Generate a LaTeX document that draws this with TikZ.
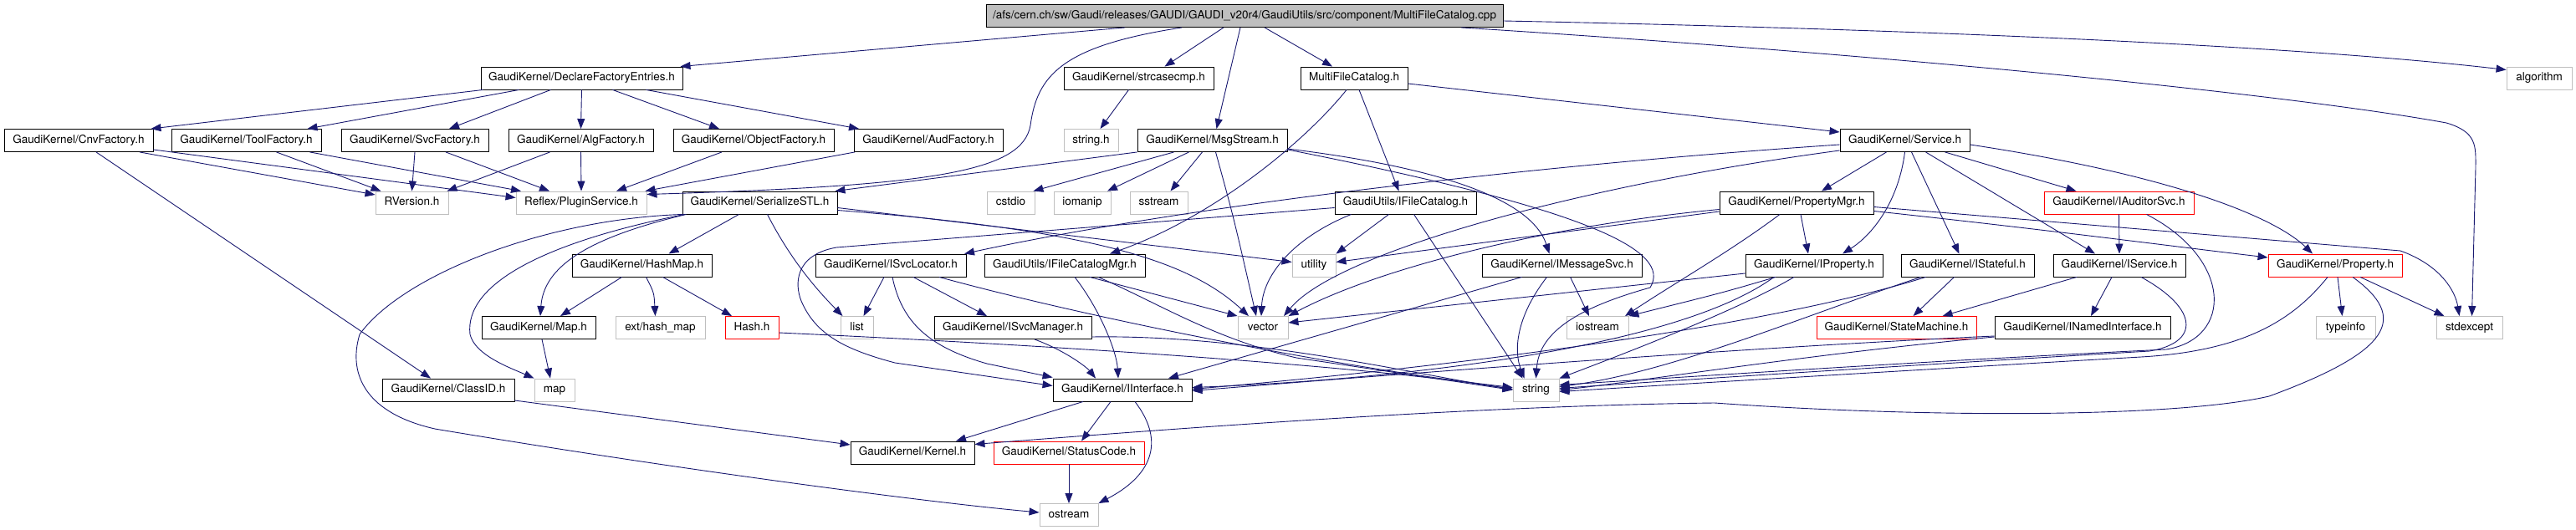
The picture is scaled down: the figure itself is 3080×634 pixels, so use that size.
\documentclass[tikz,border=0pt]{standalone}
\usepackage{fontspec}
\setmainfont[Ligatures=NoCommon]{TeX Gyre Heros}
\usetikzlibrary{arrows.meta}
\definecolor{edgec}{HTML}{191970}
\definecolor{gbord}{HTML}{BFBFBF}
\tikzset{
  box/.style={draw, line width=0.9pt, minimum height=27pt, inner sep=0pt,
    text height=9.8pt, text depth=2.9pt, font=\fontsize{13.5pt}{15pt}\selectfont, anchor=center},
  doc/.style={box, draw=black},
  ext/.style={box, draw=gbord},
  trunc/.style={box, draw=red},
  rootbox/.style={box, draw=black, fill=gbord},
  edge/.style={draw=edgec, line width=0.9pt, -{Triangle[length=12pt,width=9pt]}},
}
\begin{document}
\begin{tikzpicture}[x=1pt,y=-1pt]
\useasboundingbox (0,0) rectangle (3080,634);
% row 0
\node[rootbox, minimum width=618pt] (root) at (1488,19) {/afs/cern.ch/sw/Gaudi/releases/GAUDI/GAUDI\_v20r4/GaudiUtils/src/component/MultiFileCatalog.cpp};
% row 1
\node[doc, minimum width=241pt] (dfe) at (695.5,93.5) {GaudiKernel/DeclareFactoryEntries.h};
\node[doc, minimum width=179pt] (strc) at (1361.5,93.5) {GaudiKernel/strcasecmp.h};
\node[doc, minimum width=128pt] (mfch) at (1619,93.5) {MultiFileCatalog.h};
\node[ext, minimum width=78pt] (algo) at (3036,93.5) {algorithm};
% row 2
\node[doc, minimum width=178pt] (cnv) at (94,168) {GaudiKernel/CnvFactory.h};
\node[doc, minimum width=179pt] (tool) at (294.5,168) {GaudiKernel/ToolFactory.h};
\node[doc, minimum width=176pt] (svcf) at (496,168) {GaudiKernel/SvcFactory.h};
\node[doc, minimum width=173pt] (algf) at (694.5,168) {GaudiKernel/AlgFactory.h};
\node[doc, minimum width=192pt] (objf) at (901,168) {GaudiKernel/ObjectFactory.h};
\node[doc, minimum width=178pt] (audf) at (1110,168) {GaudiKernel/AudFactory.h};
\node[ext, minimum width=65pt] (stringh) at (1304.5,168) {string.h};
\node[doc, minimum width=179pt] (msg) at (1449.5,168) {GaudiKernel/MsgStream.h};
\node[doc, minimum width=155pt] (svc) at (2277.5,168) {GaudiKernel/Service.h};
% row 3
\node[ext, minimum width=87pt] (rver) at (492.5,242.5) {RVersion.h};
\node[ext, minimum width=156pt] (plug) at (695,242.5) {Reflex/PluginService.h};
\node[doc, minimum width=185pt] (ser) at (908.5,242.5) {GaudiKernel/SerializeSTL.h};
\node[ext, minimum width=57pt] (cstdio) at (1208.5,242.5) {cstdio};
\node[ext, minimum width=68pt] (iomanip) at (1294,242.5) {iomanip};
\node[ext, minimum width=69pt] (sstream) at (1385.5,242.5) {sstream};
\node[doc, minimum width=169pt] (ifc) at (1680.5,242.5) {GaudiUtils/IFileCatalog.h};
\node[doc, minimum width=184pt] (pmgr) at (2148,242.5) {GaudiKernel/PropertyMgr.h};
\node[trunc, minimum width=179pt] (iaud) at (2533.5,242.5) {GaudiKernel/IAuditorSvc.h};
% row 4
\node[doc, minimum width=167pt] (hashmap) at (767.5,317.5) {GaudiKernel/HashMap.h};
\node[doc, minimum width=180pt] (isl) at (1065,317.5) {GaudiKernel/ISvcLocator.h};
\node[doc, minimum width=192pt] (ifcm) at (1273,317.5) {GaudiUtils/IFileCatalogMgr.h};
\node[ext, minimum width=52pt] (utility) at (1571,317.5) {utility};
\node[doc, minimum width=191pt] (imsg) at (1867.5,317.5) {GaudiKernel/IMessageSvc.h};
\node[doc, minimum width=164pt] (iprop) at (2169,317.5) {GaudiKernel/IProperty.h};
\node[doc, minimum width=159pt] (istate) at (2352.5,317.5) {GaudiKernel/IStateful.h};
\node[doc, minimum width=158pt] (isvc) at (2534,317.5) {GaudiKernel/IService.h};
\node[trunc, minimum width=160pt] (prop) at (2792,317.5) {GaudiKernel/Property.h};
% row 5
\node[doc, minimum width=136pt] (maph) at (644,392) {GaudiKernel/Map.h};
\node[ext, minimum width=107pt] (hashext) at (789.5,392) {ext/hash\_map};
\node[trunc, minimum width=64pt] (hashh) at (899,392) {Hash.h};
\node[ext, minimum width=39pt] (list) at (1024.5,392) {list};
\node[doc, minimum width=188pt] (ismgr) at (1211,392) {GaudiKernel/ISvcManager.h};
\node[ext, minimum width=60pt] (vector) at (1510,392) {vector};
\node[ext, minimum width=74pt] (iostream) at (1910,392) {iostream};
\node[trunc, minimum width=191pt] (sm) at (2267.5,392) {GaudiKernel/StateMachine.h};
\node[doc, minimum width=210pt] (inamed) at (2490,392) {GaudiKernel/INamedInterface.h};
\node[ext, minimum width=71pt] (typeinfo) at (2804.5,392) {typeinfo};
\node[ext, minimum width=79pt] (stdexc) at (2952.5,392) {stdexcept};
% row 6
\node[doc, minimum width=158pt] (classid) at (536,466.5) {GaudiKernel/ClassID.h};
\node[ext, minimum width=48pt] (map) at (663,466.5) {map};
\node[doc, minimum width=166pt] (iint) at (1342,466.5) {GaudiKernel/IInterface.h};
\node[ext, minimum width=55pt] (string) at (1836.5,466.5) {string};
% row 7
\node[doc, minimum width=148pt] (kernel) at (1091,541.5) {GaudiKernel/Kernel.h};
\node[trunc, minimum width=180pt] (sc) at (1278,541.5) {GaudiKernel/StatusCode.h};
% row 8
\node[ext, minimum width=70pt] (ostream) at (1278,616) {ostream};

% ---- edges from root
\draw[edge] ([xshift=-143pt]root.south) -- ([xshift=118pt]dfe.north);
\draw[edge] ([xshift=-25pt]root.south) -- ([xshift=31pt]strc.north);
\draw[edge] ([xshift=-5pt]root.south) -- ([xshift=5pt]msg.north);
\draw[edge] ([xshift=24pt]root.south) -- ([xshift=-26pt]mfch.north);
\draw[edge] ([yshift=-6pt]root.east) .. controls (2300,35) and (2750,55) .. ([yshift=10pt]algo.west);
\draw[edge] ([xshift=259pt]root.south) .. controls (2300,68) and (2750,115) .. (2925,147) .. controls (2962,158) and (2960,175) .. (2960,200) -- ([xshift=3pt]stdexc.north);
\draw[edge] ([xshift=-75pt]root.south) .. controls (1270,55) and (1240,90) .. (1232,150) .. controls (1222,205) and (1120,222) .. ([yshift=10pt]plug.east);
% ---- DeclareFactoryEntries
\draw[edge] ([xshift=-118pt]dfe.south) -- ([xshift=-3pt]cnv.north east);
\draw[edge] ([xshift=-75pt]dfe.south) -- ([xshift=73pt]tool.north);
\draw[edge] ([xshift=-37pt]dfe.south) -- ([xshift=41pt]svcf.north);
\draw[edge] (dfe.south) -- (algf.north);
\draw[edge] ([xshift=37pt]dfe.south) -- ([xshift=-41pt]objf.north);
\draw[edge] ([xshift=77pt]dfe.south) -- ([xshift=-83pt]audf.north);
% ---- factories
\draw[edge] ([xshift=73pt]cnv.south) -- ([yshift=9.5pt]rver.west);
\draw[edge] ([yshift=-11pt]cnv.east) -- ([yshift=6pt]plug.west);
\draw[edge] ([xshift=21pt]cnv.south) -- ([xshift=-21pt]classid.north);
\draw[edge] ([xshift=36pt]tool.south) -- ([xshift=-37pt]rver.north);
\draw[edge] ([xshift=76pt]tool.south) -- ([xshift=-72pt]plug.north);
\draw[edge] (svcf.south) -- (rver.north);
\draw[edge] ([xshift=37pt]svcf.south) -- ([xshift=-38pt]plug.north);
\draw[edge] ([xshift=-37pt]algf.south) -- ([xshift=42pt]rver.north);
\draw[edge] (algf.south) -- (plug.north);
\draw[edge] ([xshift=-38pt]objf.south) -- ([xshift=42pt]plug.north);
\draw[edge] ([xshift=-88pt]audf.south) -- ([xshift=-2pt]plug.north east);
% ---- strcasecmp
\draw[edge] ([xshift=-12pt]strc.south) -- ([xshift=11pt]stringh.north);
% ---- MsgStream
\draw[edge] (msg.south west) -- ([xshift=-3pt]ser.north east);
\draw[edge] ([xshift=-46pt]msg.south) -- ([xshift=-2pt]cstdio.north east);
\draw[edge] ([xshift=-28pt]msg.south) -- ([xshift=30pt]iomanip.north);
\draw[edge] ([xshift=-12pt]msg.south) -- ([xshift=14pt]sstream.north);
\draw[edge] ([xshift=4pt]msg.south) .. controls (1475,260) .. ([xshift=-8pt]vector.north);
\draw[edge] ([yshift=-10pt]msg.east) .. controls (1760,205) and (1835,250) .. ([xshift=-15pt]imsg.north);
\draw[edge] ([yshift=-11pt]msg.east) .. controls (1900,250) and (2000,300) .. (1973,344) .. controls (1880,370) and (1840,400) .. (string.north);
% ---- MultiFileCatalog.h
\draw[edge] ([yshift=-6.5pt]mfch.east) -- ([yshift=10pt]svc.west);
\draw[edge] ([xshift=6pt]mfch.south) -- ([xshift=-8pt]ifc.north);
\draw[edge] ([xshift=-9pt]mfch.south) .. controls (1560,170) and (1450,260) .. ([xshift=54pt]ifcm.north);
% ---- Service.h
\draw[edge] ([yshift=-5pt]svc.west) .. controls (1800,200) and (1400,250) .. ([xshift=88pt]isl.north);
\draw[edge] ([yshift=-12pt]svc.west) .. controls (1900,220) and (1600,300) .. ([xshift=25pt]vector.north);
\draw[edge] ([xshift=-22pt]svc.south) -- ([xshift=30pt]pmgr.north);
\draw[edge] (svc.south) .. controls (2270,240) and (2240,280) .. ([xshift=34pt]iprop.north);
\draw[edge] ([xshift=8pt]svc.south) -- ([xshift=-10pt]istate.north);
\draw[edge] ([xshift=25pt]svc.south) -- ([xshift=-29pt]isvc.north);
\draw[edge] ([xshift=48pt]svc.south) -- ([xshift=-51pt]iaud.north);
\draw[edge] ([yshift=-5pt]svc.east) .. controls (2600,210) and (2720,260) .. ([xshift=-27pt]prop.north);
% ---- IAuditorSvc
\draw[edge] (iaud.south) -- (isvc.north);
\draw[edge] ([xshift=33pt]iaud.south) .. controls (2670,310) and (2670,405) .. (2590,418) .. controls (2300,432) and (2000,452) .. ([yshift=6pt]string.east);
% ---- PropertyMgr
\draw[edge] ([yshift=-10.5pt]pmgr.west) -- ([yshift=4pt]utility.east);
\draw[edge] ([yshift=-8pt]pmgr.west) .. controls (1850,270) and (1650,320) .. (vector.north east);
\draw[edge] ([xshift=5pt]pmgr.south) -- ([xshift=-7pt]iprop.north);
\draw[edge] ([yshift=-10pt]pmgr.east) .. controls (2450,275) and (2600,295) .. ([yshift=9.5pt]prop.west);
\draw[edge] ([yshift=-5pt]pmgr.east) -- (2870,300) .. controls (2920,318) and (2936,350) .. ([xshift=-12pt]stdexc.north);
\draw[edge] ([xshift=-20pt]pmgr.south) .. controls (2070,300) and (2000,340) .. ([xshift=33pt]iostream.north);
% ---- IProperty
\draw[edge] ([yshift=-9.5pt]iprop.west) -- ([yshift=6pt]vector.east);
\draw[edge] ([xshift=-46pt]iprop.south) .. controls (2060,350) .. (iostream.north east);
\draw[edge] ([xshift=-48pt]iprop.south) .. controls (2000,420) and (1650,455) .. ([yshift=3pt]iint.east);
\draw[edge] ([xshift=-24pt]iprop.south) .. controls (2080,370) and (1950,420) .. (string.north east);
% ---- IStateful
\draw[edge] ([xshift=-16pt]istate.south) -- ([xshift=20pt]sm.north);
\draw[edge] ([xshift=-56pt]istate.south) .. controls (2150,380) and (2000,445) .. ([yshift=4pt]string.east);
\draw[edge] ([xshift=-50pt]istate.south) .. controls (2100,395) and (1700,442) .. ([yshift=1pt]iint.east);
% ---- IService
\draw[edge] ([xshift=-51pt]isvc.south) -- ([xshift=55pt]sm.north);
\draw[edge] ([xshift=-9pt]isvc.south) -- ([xshift=10pt]inamed.north);
\draw[edge] ([xshift=26pt]isvc.south) .. controls (2630,370) and (2630,410) .. (2570,420) .. controls (2300,436) and (2000,455) .. ([yshift=2pt]string.east);
% ---- INamedInterface
\draw[edge] ([yshift=-10pt]inamed.west) .. controls (2100,415) and (1700,445) .. ([yshift=-1pt]iint.east);
\draw[edge] ([yshift=-11pt]inamed.west) .. controls (2150,425) and (1950,458) .. ([yshift=0pt]string.east);
% ---- Property.h
\draw[edge] ([xshift=3pt]prop.south) -- ([xshift=-4pt]typeinfo.north);
\draw[edge] ([xshift=30pt]prop.south) -- ([xshift=-30pt]stdexc.north);
\draw[edge] ([xshift=-9pt]prop.south) .. controls (2740,385) and (2680,420) .. (2560,427) .. controls (2300,442) and (2000,460) .. ([yshift=-2pt]string.east);
\draw[edge] ([xshift=21pt]prop.south) .. controls (2880,380) and (2860,420) .. (2713,474) .. controls (2600,500) and (2300,500) .. (2050,482) .. controls (1800,485) and (1500,505) .. ([yshift=10pt]kernel.east);
% ---- IMessageSvc
\draw[edge] ([xshift=-18pt]imsg.south) .. controls (1812,380) and (1810,420) .. ([xshift=-14pt]string.north);
\draw[edge] ([xshift=10pt]imsg.south) -- ([xshift=-10pt]iostream.north);
\draw[edge] ([xshift=-48pt]imsg.south) -- ([xshift=55pt]iint.north);
% ---- IFileCatalog
\draw[edge] ([yshift=-6pt]ifc.west) -- (1000,296) .. controls (950,305) and (950,340) .. (958,360) .. controls (975,400) and (1010,418) .. (1070,434) -- ([yshift=5pt]iint.west);
\draw[edge] ([xshift=-20pt]ifc.south) -- (utility.north east);
\draw[edge] ([xshift=-65pt]ifc.south) .. controls (1545,285) and (1510,330) .. ([xshift=-2pt]vector.north);
\draw[edge] ([xshift=10pt]ifc.south) -- ([xshift=-16pt]string.north);
% ---- SerializeSTL
\draw[edge] ([xshift=-25pt]ser.south) -- ([xshift=32pt]hashmap.north);
\draw[edge] ([xshift=-88pt]ser.south) .. controls (700,285) and (650,320) .. ([xshift=2pt]maph.north);
\draw[edge] ([xshift=-90pt]ser.south) .. controls (650,290) and (555,340) .. (562,400) .. controls (568,425) and (610,440) .. (map.north west);
\draw[edge] ([xshift=-92pt]ser.south) .. controls (650,262) and (480,330) .. (430,400) .. controls (415,450) and (440,495) .. (520,513) .. controls (800,560) and (1100,600) .. ([yshift=3pt]ostream.west);
\draw[edge] ([xshift=9pt]ser.south) .. controls (945,310) and (975,345) .. ([xshift=-17pt]list.north);
\draw[edge] ([yshift=-9pt]ser.east) .. controls (1300,275) and (1420,310) .. ([xshift=-17pt]vector.north);
\draw[edge] ([yshift=-6pt]ser.east) -- ([yshift=4pt]utility.west);
% ---- HashMap
\draw[edge] ([xshift=-24pt]hashmap.south) -- ([xshift=26pt]maph.north);
\draw[edge] ([xshift=5pt]hashmap.south) .. controls (782,350) .. ([xshift=-6pt]hashext.north);
\draw[edge] ([xshift=25pt]hashmap.south) -- ([xshift=-24pt]hashh.north);
\draw[edge] ([yshift=-6pt]hashh.east) .. controls (1300,415) and (1650,440) .. ([yshift=1pt]string.west);
\draw[edge] ([xshift=4pt]maph.south) -- ([xshift=-5pt]map.north);
\draw[edge] ([yshift=-12.5pt]classid.east) -- ([yshift=9.5pt]kernel.west);
% ---- ISvcLocator
\draw[edge] ([xshift=-8pt]isl.south) -- ([xshift=8pt]list.north);
\draw[edge] ([xshift=27pt]isl.south) -- ([xshift=-31pt]ismgr.north);
\draw[edge] ([xshift=2pt]isl.south) .. controls (1078,385) and (1110,415) .. (1180,435) -- ([yshift=15pt]iint.west);
\draw[edge] ([xshift=58pt]isl.south) .. controls (1300,380) and (1600,440) .. ([yshift=3pt]string.west);
% ---- ISvcManager
\draw[edge] ([xshift=26pt]ismgr.south) .. controls (1275,420) and (1300,440) .. ([xshift=-32pt]iint.north);
\draw[edge] ([yshift=-11pt]ismgr.east) .. controls (1500,400) and (1700,450) .. ([yshift=1pt]string.west);
% ---- IFileCatalogMgr
\draw[edge] ([xshift=12pt]ifcm.south) .. controls (1315,370) and (1335,420) .. ([xshift=-5pt]iint.north);
\draw[edge] ([xshift=30pt]ifcm.south) -- (vector.north west);
\draw[edge] ([xshift=40pt]ifcm.south) .. controls (1380,360) and (1450,405) .. (1550,428) -- (string.west);
% ---- IInterface
\draw[edge] ([xshift=-47pt]iint.south) -- ([xshift=52pt]kernel.north);
\draw[edge] ([xshift=-14pt]iint.south) -- ([xshift=15pt]sc.north);
\draw[edge] ([xshift=15pt]iint.south) .. controls (1395,530) and (1375,570) .. (ostream.north east);
\draw[edge] (sc.south) -- (ostream.north);
\end{tikzpicture}
\end{document}
